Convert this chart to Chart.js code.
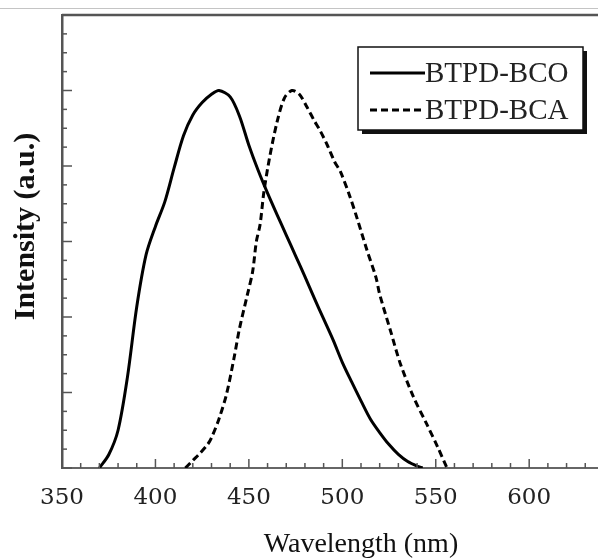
<!DOCTYPE html>
<html>
<head>
<meta charset="utf-8">
<title>BTPD emission spectra</title>
<script src="https://cdn.jsdelivr.net/npm/chart.js"></script>
<style>
  html, body { margin: 0; padding: 0; background: #fff; overflow: hidden; }
  #wrap { width: 598px; height: 558px; overflow: hidden; position: relative; }
</style>
</head>
<body>
<div id="wrap">
  <canvas id="myChartPL" width="690" height="558"></canvas>
</div>
<script>
// ---- data ----
const seriesNames = ["BTPD-BCO", "BTPD-BCA"];

const wl_BCO = [370, 375, 380, 385, 390, 395, 400, 405, 410, 415, 420, 425, 430, 434,
                440, 445, 450, 455, 460, 465, 470, 475, 480, 485, 490, 495, 500, 505,
                510, 515, 520, 525, 530, 535, 540, 543];
const int_BCO = [0, 0.035, 0.10, 0.24, 0.427, 0.565, 0.64, 0.705, 0.795, 0.88, 0.935, 0.968, 0.99, 1.0,
                 0.983, 0.932, 0.855, 0.788, 0.728, 0.672, 0.617, 0.562, 0.507, 0.45, 0.395, 0.34, 0.28, 0.228,
                 0.178, 0.13, 0.094, 0.062, 0.036, 0.017, 0.005, 0];

const wl_BCA = [416, 420, 424, 428, 430, 434, 438, 442, 445, 449, 452, 454, 456, 458,
                461, 465, 469, 473, 477, 481, 485, 488, 492, 496, 499, 504, 508, 513,
                518, 520, 526, 531, 538, 545, 551, 556];
const int_BCA = [0, 0.02, 0.04, 0.063, 0.08, 0.13, 0.195, 0.29, 0.37, 0.455, 0.52, 0.60, 0.645, 0.73,
                 0.82, 0.915, 0.98, 1.0, 0.99, 0.957, 0.92, 0.895, 0.855, 0.81, 0.785, 0.72, 0.66, 0.58,
                 0.505, 0.46, 0.36, 0.277, 0.189, 0.118, 0.056, 0];

const xTicksShown = [350, 400, 450, 500, 550, 600];
const xMin = 350, xMax = 670, xMajor = 50, xMinor = 10;
const yMin = 0, yMax = 1.2, yMajor = 0.2, yMinor = 0.05;

function toPoints(xs, ys) {
	return xs.map((v, i) => ({ x: v, y: ys[i] }));
}

// ---- frame, inward ticks, legend box ----
const frameTicks = {
	id: "frameTicks",
	afterDatasetsDraw(chart) {
		const { ctx, chartArea: a, scales: { x, y } } = chart;
		ctx.save();
		// page rule above the plot
		ctx.strokeStyle = "#c4c4c4";
		ctx.lineWidth = 1;
		ctx.beginPath();
		ctx.moveTo(0, a.top - 6.5);
		ctx.lineTo(chart.width, a.top - 6.5);
		ctx.stroke();
		// top border
		ctx.strokeStyle = "#555";
		ctx.lineWidth = 2.5;
		ctx.beginPath();
		ctx.moveTo(a.left, a.top);
		ctx.lineTo(chart.width, a.top);
		ctx.stroke();
		// x ticks (inward)
		ctx.lineWidth = 1.5;
		ctx.strokeStyle = "#555";
		const nx = Math.round((xMax - xMin) / xMinor);
		for (let i = 0; i <= nx; i++) {
			const v = xMin + i * xMinor;
			const px = x.getPixelForValue(v);
			const len = (v - xMin) % xMajor === 0 ? 9 : 5;
			ctx.beginPath();
			ctx.moveTo(px, a.bottom);
			ctx.lineTo(px, a.bottom - len);
			ctx.stroke();
		}
		// y ticks (inward)
		const ny = Math.round((yMax - yMin) / yMinor);
		for (let i = 0; i <= ny; i++) {
			const py = y.getPixelForValue(yMin + i * yMinor);
			const len = i % Math.round(yMajor / yMinor) === 0 ? 10 : 5;
			ctx.beginPath();
			ctx.moveTo(a.left, py);
			ctx.lineTo(a.left + len, py);
			ctx.stroke();
		}
		ctx.restore();
	},
	afterDraw(chart) {
		const { ctx, chartArea: a } = chart;
		const bx = a.left + 296, by = a.top + 32, bw = 225, bh = 83;
		ctx.save();
		// shadow
		ctx.fillStyle = "#111";
		ctx.fillRect(bx + 4, by + 4, bw, bh);
		ctx.fillStyle = "#fff";
		ctx.fillRect(bx, by, bw, bh);
		ctx.strokeStyle = "#111";
		ctx.lineWidth = 1.5;
		ctx.strokeRect(bx, by, bw, bh);
		chart.data.datasets.forEach((ds, i) => {
			const ly = by + 26 + i * 37;
			ctx.strokeStyle = ds.borderColor;
			ctx.lineWidth = ds.borderWidth;
			ctx.setLineDash(ds.borderDash || []);
			ctx.beginPath();
			ctx.moveTo(bx + 12, ly);
			ctx.lineTo(bx + 67, ly);
			ctx.stroke();
			ctx.setLineDash([]);
			ctx.fillStyle = "#222";
			ctx.font = "29px 'Liberation Serif'";
			ctx.textBaseline = "middle";
			ctx.textAlign = "left";
			ctx.fillText(ds.label, bx + 67, ly + 1);
		});
		ctx.restore();
	}
};

const ctx1 = document.getElementById("myChartPL").getContext("2d");

let myChartPL = new Chart(ctx1, {
	type: "line",
	data: {
		datasets: [
			{
				label: seriesNames[0],
				data: toPoints(wl_BCO, int_BCO),
				borderColor: "#000",
				borderWidth: 3,
				pointRadius: 0,
				tension: 0.3,
				fill: false,
			},
			{
				label: seriesNames[1],
				data: toPoints(wl_BCA, int_BCA),
				borderColor: "#000",
				borderWidth: 3,
				borderDash: [7, 4],
				pointRadius: 0,
				tension: 0.3,
				fill: false,
			}
		],
	},
	options: {
		responsive: false,
		animation: false,
		devicePixelRatio: 1,
		layout: { padding: { left: 0, top: 15, right: 30, bottom: 0 } },
		scales: {
			x: {
				type: "linear",
				min: xMin,
				max: xMax,
				grid: { display: false, drawTicks: false },
				border: { display: true, color: "#666", width: 2 },
				ticks: {
					stepSize: xMajor,
					includeBounds: false,
					padding: 16,
					color: "#222",
					font: { family: "'DejaVu Serif'", size: 23 },
					callback: (v) => xTicksShown.includes(v) ? String(v) : "",
				},
				title: {
					display: true,
					text: "Wavelength (nm)",
					color: "#111",
					font: { family: "'Liberation Serif'", size: 28 },
					padding: { top: 0, bottom: -3 },
				},
				afterFit: (scale) => { scale.height = 90; },
			},
			y: {
				min: yMin,
				max: yMax,
				grid: { display: false, drawTicks: false },
				border: { display: true, color: "#555", width: 2.5 },
				ticks: { display: false, stepSize: yMajor },
				title: {
					display: true,
					// leading em space nudges the label up, as in the source figure
					text: "\u2003Intensity (a.u.)",
					color: "#111",
					font: { family: "'Liberation Serif'", size: 30, weight: "bold" },
					padding: { top: 8, bottom: 0 },
				},
				afterFit: (scale) => { scale.width = 62; },
			}
		},
		plugins: {
			legend: { display: false },
			tooltip: { enabled: false },
		}
	},
	plugins: [frameTicks],
});
</script>
</body>
</html>
